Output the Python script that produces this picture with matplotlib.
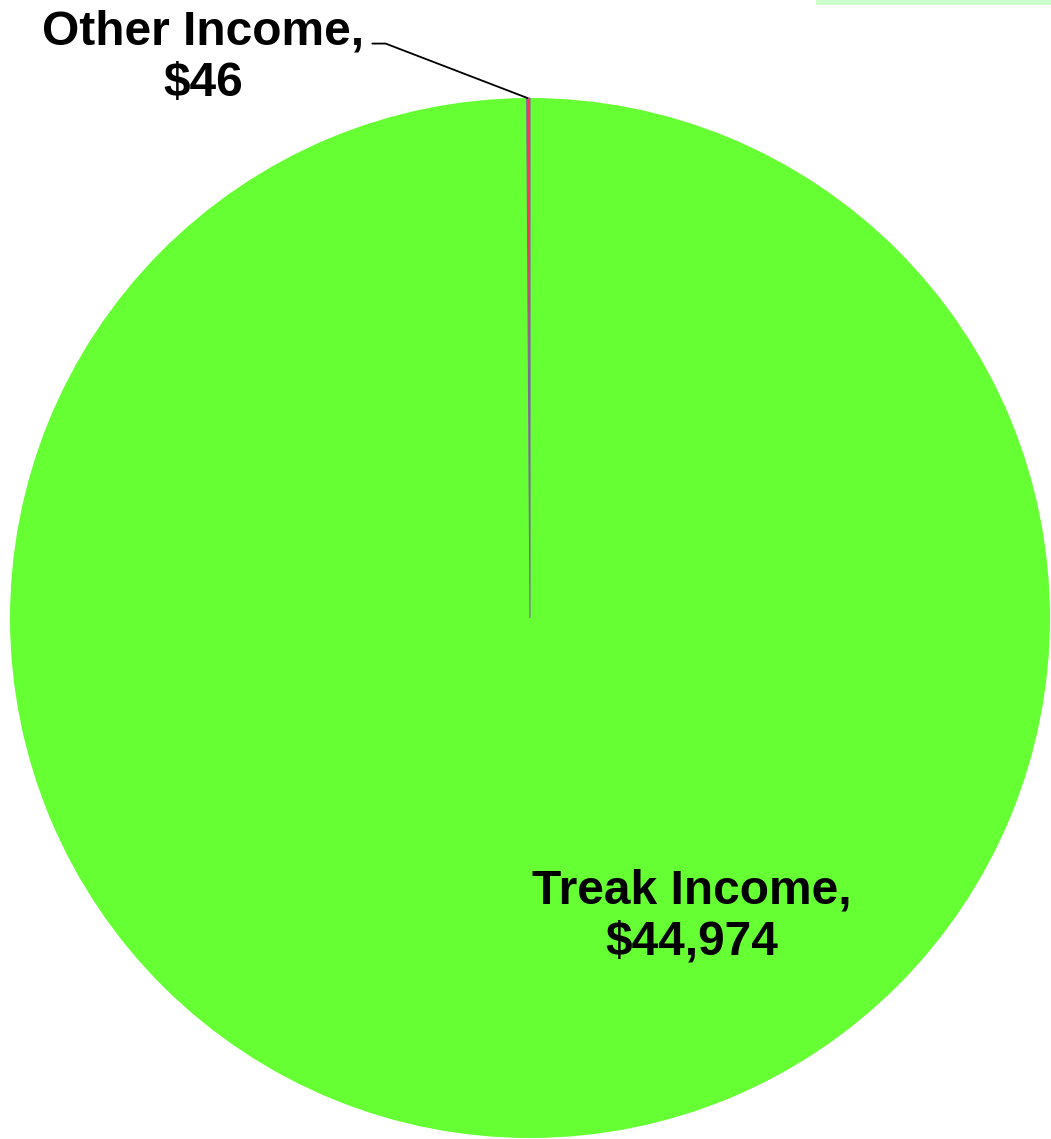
import matplotlib.pyplot as plt
from matplotlib.patches import Rectangle

labels = ["Treak Income", "Other Income"]
values = [44974, 46]
colors = ["#66ff33", "#ff3355"]

plt.rcParams['font.family'] = ['Liberation Sans', 'DejaVu Sans']

W, H = 1051, 1139
fig = plt.figure(figsize=(W / 100, H / 100), dpi=100)
# pie spans roughly x 10..1050, y 98..1138 px
ax = fig.add_axes([10 / W, 1 / H, 1040 / W, 1040 / H])

wedges, _ = ax.pie(values, colors=colors, startangle=90, counterclock=False,
                   radius=1, wedgeprops=dict(linewidth=0))
wedges[1].set_edgecolor("#7a6a9a")
wedges[1].set_linewidth(0.8)
ax.set_xlim(-1, 1)
ax.set_ylim(-1, 1)
ax.set_aspect('equal')
ax.axis('off')

ax.text(0.311, -0.574, f"{labels[0]},\n${values[0]:,}", ha='center', va='center',
        fontsize=34.5, fontweight='bold', linespacing=1.17)

ax.annotate(f"{labels[1]},\n${values[1]:,}", xy=(-0.005, 1.0),
            xycoords='data', xytext=(-0.629, 1.077), textcoords='data',
            ha='center', va='center', fontsize=34.5, fontweight='bold', linespacing=1.17,
            annotation_clip=False,
            arrowprops=dict(arrowstyle='-', color='black', lw=1.3,
                            connectionstyle='angle,angleA=0,angleB=-21,rad=0',
                            shrinkA=4, shrinkB=0, relpos=(1.0, 0.65)))

# clipped legend box at the top right
fig.patches.append(Rectangle((816 / W, 1 - 5 / H), 235 / W, 5 / H,
                             transform=fig.transFigure, facecolor="#ccffcc",
                             edgecolor='none'))

fig.savefig("out.png", dpi=100)
